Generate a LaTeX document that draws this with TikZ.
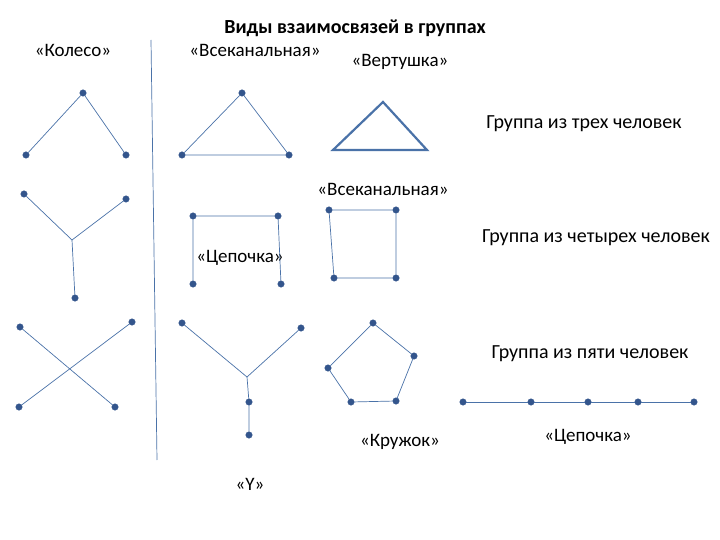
\documentclass[tikz,border=0pt]{standalone}
\usepackage{fontspec}
\setmainfont{Carlito}
\definecolor{ln}{HTML}{4A72A8}
\definecolor{dt}{HTML}{33558C}
\begin{document}
\begin{tikzpicture}[x=1pt,y=-1pt,
  dot/.style={circle,fill=dt,draw=dt,inner sep=0pt,minimum size=6.5pt},
  ln/.style={draw=ln,line width=0.7pt},
  lbl/.style={font=\fontsize{19}{21}\selectfont,inner sep=0pt},
  big/.style={font=\fontsize{20}{22}\selectfont,inner sep=0pt}]
\useasboundingbox (0,0) rectangle (720,540);
\draw[ln] (151,40) -- (157,460);
\node[big,font=\bfseries\fontsize{20}{22}\selectfont] (t) at (355,28) {Виды взаимосвязей в группах};
\node[lbl] (l1) at (73,50) {«Колесо»};
\node[lbl] (l2) at (255,50) {«Всеканальная»};
\node[lbl] (l3) at (400,62) {«Вертушка»};
\node[big] (l4) at (584,124) {Группа из трех человек};
\node[lbl] (l5) at (383,189) {«Всеканальная»};
\node[big] (l6) at (596,238) {Группа из четырех человек};
\node[lbl] (l7) at (240,258) {«Цепочка»};
\node[big] (l8) at (590,354) {Группа из пяти человек};
\node[lbl] (l9) at (400,442) {«Кружок»};
\node[lbl] (l10) at (588,437) {«Цепочка»};
\node[lbl] (l11) at (250,484) {«Y»};
% wheel
\node[dot] (a1) at (83,93) {}; \node[dot] (a2) at (26,155) {}; \node[dot] (a3) at (126,155) {};
\draw[ln] (a2)--(a1)--(a3);
\node[dot] (b1) at (24,194) {}; \node[dot] (b2) at (126,199) {}; \coordinate (bc) at (72,240); \node[dot] (b3) at (75,298) {};
\draw[ln] (b1)--(bc)--(b2); \draw[ln] (bc)--(b3);
\node[dot] (c1) at (20,327) {}; \node[dot] (c2) at (115,407) {}; \node[dot] (c3) at (132,322) {}; \node[dot] (c4) at (19,407) {};
\draw[ln] (c1)--(c2); \draw[ln] (c3)--(c4);
% triangles
\node[dot] (d1) at (242,93) {}; \node[dot] (d2) at (182,155) {}; \node[dot] (d3) at (289,155) {};
\draw[ln] (d1)--(d2)--(d3)--(d1);
\coordinate (e1) at (383,102); \coordinate (e2) at (333,150); \coordinate (e3) at (427,150);
\draw[draw=ln,line width=2.2pt] (e1)--(e2)--(e3)--cycle;
% chain square
\node[dot] (f1) at (193,216) {}; \node[dot] (f2) at (278,216) {}; \node[dot] (f3) at (193,284) {}; \node[dot] (f4) at (281,284) {};
\draw[ln] (f3)--(f1)--(f2)--(f4);
\node[dot] (g1) at (329,210) {}; \node[dot] (g2) at (396,210) {}; \node[dot] (g3) at (334,278) {}; \node[dot] (g4) at (396,278) {};
\draw[ln] (g1)--(g2)--(g4)--(g3)--(g1);
% Y
\node[dot] (h1) at (182,323) {}; \node[dot] (h2) at (301,328) {}; \coordinate (hc) at (247,377); \node[dot] (h3) at (249,402) {}; \node[dot] (h4) at (249,435) {};
\draw[ln] (h1)--(hc)--(h2); \draw[ln] (hc)--(h3)--(h4);
% pentagon
\node[dot] (p1) at (373,323) {}; \node[dot] (p2) at (414,356) {}; \node[dot] (p3) at (396,401) {}; \node[dot] (p4) at (351,402) {}; \node[dot] (p5) at (328,368) {};
\draw[ln] (p1)--(p2)--(p3)--(p4)--(p5)--(p1);
% chain five
\node[dot] (q1) at (463,402) {}; \node[dot] (q2) at (531,402) {}; \node[dot] (q3) at (588,402) {}; \node[dot] (q4) at (638,402) {}; \node[dot] (q5) at (694,402) {};
\draw[ln] (q1)--(q2)--(q3)--(q4)--(q5);
\end{tikzpicture}
\end{document}
